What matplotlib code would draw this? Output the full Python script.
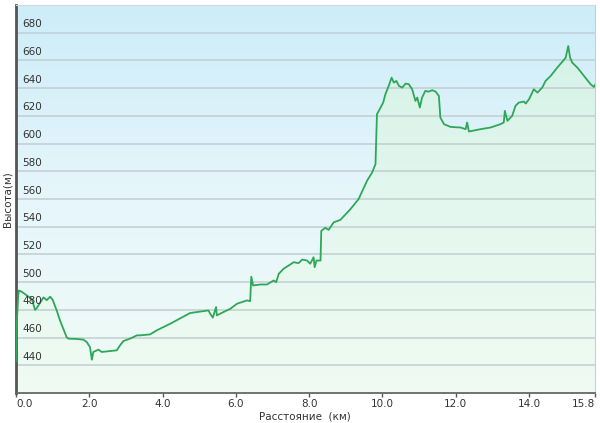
import numpy as np
import matplotlib
matplotlib.use("Agg")
from matplotlib import pyplot as plt
from matplotlib.colors import LinearSegmentedColormap

# distance (km) and elevation (m)
dist = [0.0, 0.02, 0.06, 0.08, 0.16, 0.29, 0.43, 0.52, 0.56, 0.70, 0.75, 0.84, 0.93, 1.00,
        1.11, 1.20, 1.29, 1.38, 1.43, 1.66, 1.84, 1.93, 2.02, 2.07, 2.11, 2.25, 2.34, 2.57,
        2.75, 2.84, 2.93, 3.11, 3.30, 3.39, 3.66, 3.84, 4.21, 4.75, 4.94, 5.25, 5.30, 5.37,
        5.46, 5.48, 5.66, 5.85, 6.03, 6.30, 6.39, 6.42, 6.47, 6.67, 6.85, 7.03, 7.10, 7.17,
        7.30, 7.58, 7.71, 7.81, 7.94, 8.03, 8.12, 8.15, 8.20, 8.31, 8.33, 8.44, 8.53, 8.67,
        8.85, 9.13, 9.35, 9.58, 9.72, 9.81, 9.85, 9.95, 10.02, 10.08, 10.17, 10.25, 10.31,
        10.38, 10.45, 10.54, 10.63, 10.72, 10.81, 10.90, 10.95, 11.02, 11.08, 11.17, 11.26,
        11.36, 11.45, 11.54, 11.58, 11.68, 11.86, 12.13, 12.27, 12.31, 12.36, 12.68, 12.95,
        13.22, 13.31, 13.34, 13.41, 13.54, 13.63, 13.72, 13.86, 13.91, 14.00, 14.13, 14.23,
        14.36, 14.45, 14.59, 14.77, 14.91, 15.00, 15.07, 15.12, 15.18, 15.32, 15.50, 15.68,
        15.77, 15.80]
elev = [443, 470, 490, 494, 493, 490.5, 488, 480, 481, 487, 489, 487, 489.5, 487.3,
        479.6, 472.4, 466.4, 460.4, 459.2, 459, 458.5, 456.8, 453, 444, 449.6, 451.3, 449.6, 450.3,
        450.8, 454.4, 457.5, 459.2, 461.6, 461.6, 462.3, 465.2, 470, 477.7, 478.4, 479.6, 477.2, 474.4,
        482, 476, 478.4, 480.8, 484.4, 486.8, 486.3, 504, 497.6, 498.3, 498.3, 501.2, 500, 506,
        509.6, 514.4, 513.7, 516.3, 515.6, 513.3, 518, 510.8, 515.6, 515.6, 537, 539.2, 537.7, 543.2,
        544.9, 552.8, 560, 573.2, 579.2, 585.2, 621.2, 626, 629.6, 635.6, 641.6, 647.6, 644,
        645.2, 641.6, 640.4, 643.3, 642.8, 639.2, 630.8, 633.2, 626, 633.2, 638, 637.5,
        638.5, 637.5, 634.4, 618.8, 614, 612, 611.6, 610.4, 615.2, 608.7, 610.4, 611.6,
        614, 615.2, 623.6, 616.4, 620, 627.2, 629.6, 630.3, 628.9, 632, 639.2, 636.8,
        640.4, 645.2, 648.8, 654.8, 659.1, 662, 670.4, 662, 658.4, 654.8, 648.8, 642.8,
        640.9, 642.3]

y_ticks = [440, 460, 480, 500, 520, 540, 560, 580, 600, 620, 640, 660, 680]
x_ticks = [0.0, 2.0, 4.0, 6.0, 8.0, 10.0, 12.0, 14.0, 15.8]
x_labels = ["0.0", "2.0", "4.0", "6.0", "8.0", "10.0", "12.0", "14.0", "15.8"]

XMIN, XMAX, YMIN, YMAX = 0.0, 15.8, 420, 700
TXT = "#333333"

fig = plt.figure(figsize=(6, 4.23), dpi=100)
ax = fig.add_axes([16 / 600, 1 - 393 / 423, 579 / 600, 388 / 423])

# background gradient (blue on top, pale mint at bottom)
bg_cmap = LinearSegmentedColormap.from_list("bg", ["#f0fbf6", "#e6f6fb", "#cdedf9"])
grad = np.linspace(0, 1, 256).reshape(-1, 1)
ax.imshow(grad, extent=[XMIN, XMAX, YMIN, YMAX], origin="lower", aspect="auto",
          cmap=bg_cmap, zorder=0)

# filled area under the profile with its own gradient
fill_cmap = LinearSegmentedColormap.from_list("fill", ["#effbf3", "#e3f7ee", "#d2f1e6"])
poly = ax.fill_between(dist, elev, YMIN, color="none", lw=0)
im = ax.imshow(grad, extent=[XMIN, XMAX, YMIN, YMAX], origin="lower", aspect="auto",
               cmap=fill_cmap, zorder=1)
path = poly.get_paths()[0]
im.set_clip_path(path, transform=ax.transData)

for yv in y_ticks:
    ax.axhline(yv, color="#c3cdd2", lw=1.1, zorder=2)
    ax.text(0.17, yv + 2.5, str(yv), fontsize=7.5, color=TXT, ha="left", va="bottom", zorder=4)

ax.plot(dist, elev, color="#2ea858", lw=1.3, zorder=3, solid_joinstyle="round")

ax.set_xlim(XMIN, XMAX)
ax.set_ylim(YMIN, YMAX)
ax.set_yticks([])
ax.set_xticks(x_ticks)
ax.set_xticklabels(x_labels, fontsize=7.5, color=TXT)
lbls = ax.get_xticklabels()
lbls[0].set_ha("left")
lbls[-1].set_ha("right")
ax.tick_params(axis="x", direction="out", length=3, width=1, color="#555555", pad=1.5)

ax.spines["left"].set_color("#555555")
ax.spines["left"].set_linewidth(2)
ax.spines["bottom"].set_color("#666666")
ax.spines["bottom"].set_linewidth(1.3)
ax.spines["top"].set_color("#d0d8dc")
ax.spines["right"].set_color("#c8d0d4")
ax.spines["top"].set_linewidth(0.8)
ax.spines["right"].set_linewidth(0.8)

fig.text(305 / 600, 1 - 416 / 423, "Расстояние  (км)", fontsize=7.5, color=TXT,
         ha="center", va="center")
fig.text(8 / 600, 1 - 199 / 423, "Высота(м)", fontsize=7.5, color=TXT,
         ha="center", va="center", rotation=90)

fig.savefig("out.png", dpi=100)
